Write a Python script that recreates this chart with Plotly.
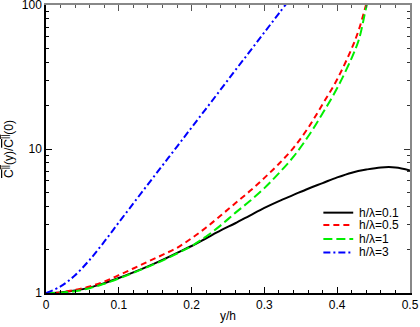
import plotly.graph_objects as go

x_grid = [0, 0.02, 0.04, 0.06, 0.08, 0.10, 0.12, 0.14, 0.16, 0.18, 0.20, 0.22, 0.24,
          0.26, 0.28, 0.30, 0.32, 0.34, 0.36, 0.38, 0.40, 0.42, 0.44, 0.46, 0.48, 0.50]

black_y = [1.0, 1.01, 1.04, 1.09, 1.17, 1.27, 1.39, 1.53, 1.7, 1.9, 2.12, 2.4, 2.72,
           3.05, 3.45, 3.9, 4.35, 4.8, 5.3, 5.8, 6.35, 6.85, 7.2, 7.45, 7.45, 7.1]

red_x = [0, 0.02, 0.04, 0.06, 0.08, 0.10, 0.12, 0.14, 0.16, 0.18, 0.20, 0.22, 0.24,
         0.26, 0.28, 0.30, 0.32, 0.34, 0.36, 0.38, 0.40, 0.42, 0.43, 0.44]
red_y = [1.0, 1.01, 1.05, 1.11, 1.2, 1.33, 1.48, 1.65, 1.84, 2.06, 2.4, 2.85, 3.45,
         4.2, 5.1, 6.3, 7.9, 10.2, 14.0, 20.5, 30.5, 50, 68, 102]

green_x = [0, 0.02, 0.04, 0.06, 0.08, 0.10, 0.12, 0.14, 0.16, 0.18, 0.20, 0.22, 0.24,
           0.26, 0.28, 0.30, 0.32, 0.34, 0.36, 0.38, 0.40, 0.42, 0.43, 0.44, 0.445]
green_y = [1.0, 1.005, 1.03, 1.08, 1.16, 1.26, 1.38, 1.52, 1.68, 1.88, 2.12, 2.47, 2.95,
           3.6, 4.35, 5.35, 6.8, 8.85, 12.2, 17.7, 26.5, 43, 58, 97, 120]

blue_x = [0, 0.02, 0.04, 0.06, 0.08, 0.10, 0.12, 0.14, 0.16, 0.18, 0.20, 0.22, 0.24,
          0.26, 0.28, 0.30, 0.32, 0.34]
blue_y = [1.0, 1.11, 1.33, 1.70, 2.27, 3.09, 4.19, 5.68, 7.69, 10.4, 14.1, 19.1, 25.9,
          35.2, 47.6, 64.6, 87.5, 118.6]

series_names = ["h/λ=0.1", "h/λ=0.5", "h/λ=1", "h/λ=3"]
x_ticks = [0, 0.1, 0.2, 0.3, 0.4, 0.5]
x_labels = ["0", "0.1", "0.2", "0.3", "0.4", "0.5"]
y_ticks = [1, 10, 100]
y_labels = ["1", "10", "100"]
y_minor = [2, 3, 4, 5, 6, 7, 8, 9, 20, 30, 40, 50, 60, 70, 80, 90]

FONT = "Liberation Sans, Arial, sans-serif"

styles = [
    dict(color="black", dash="solid"),
    dict(color="#ff0000", dash="6px,4px"),
    dict(color="#00ee00", dash="9px,4px"),
    dict(color="#0000ff", dash="7px,3px,2px,3px"),
]
series = [(x_grid, black_y), (red_x, red_y), (green_x, green_y), (blue_x, blue_y)]

fig = go.Figure()
for (xs, ys), name, st in zip(series, series_names, styles):
    fig.add_trace(go.Scatter(x=xs, y=ys, mode="lines", name=name, showlegend=False,
                             line=dict(color=st["color"], width=2, shape="spline", dash=st["dash"])))
# secondary axes for grey top/right frame
fig.add_trace(go.Scatter(x=[], y=[], xaxis="x2", yaxis="y2", showlegend=False))

# manual legend (compact spacing as in the reference)
leg_rows = [0.279, 0.236, 0.1875, 0.141]
for name, st, yy in zip(series_names, styles, leg_rows):
    fig.add_shape(type="line", xref="paper", yref="paper", x0=0.762, x1=0.844, y0=yy, y1=yy,
                  line=dict(color=st["color"], width=2, dash=st["dash"]))
    fig.add_annotation(xref="paper", yref="paper", x=0.858, y=yy, text=name, showarrow=False,
                       xanchor="left", yanchor="middle", borderpad=0,
                       font=dict(size=12, family=FONT, color="black"))

fig.update_layout(
    width=420, height=327,
    margin=dict(l=46, r=10, t=5, b=34, autoexpand=False),
    paper_bgcolor="white", plot_bgcolor="white",
    font=dict(family=FONT, size=12, color="black"),
    showlegend=False,
    xaxis=dict(range=[0, 0.5], tickvals=x_ticks, ticktext=x_labels, automargin=False,
               ticklabeloverflow="allow",
               ticks="inside", ticklen=6, tickcolor="black", showline=True, linecolor="black",
               linewidth=1.5, showgrid=False, zeroline=False,
               minor=dict(dtick=0.02, ticks="inside", ticklen=3, tickcolor="black", showgrid=False),
               title=dict(text="y/h", standoff=0, font=dict(size=12)),
               tickfont=dict(size=12)),
    yaxis=dict(type="log", range=[0, 2], tickvals=y_ticks, ticktext=y_labels, automargin=False,
               ticklabeloverflow="allow",
               ticks="inside", ticklen=6, tickcolor="black", showline=True, linecolor="black",
               linewidth=1.5, showgrid=False, zeroline=False,
               minor=dict(tickvals=y_minor, ticks="inside", ticklen=3, tickcolor="black", showgrid=False),
               title=dict(text='<span style="text-decoration:overline">C<sup>||</sup></span>(y)/'
                               '<span style="text-decoration:overline">C<sup>||</sup></span>(0)',
                          standoff=9, font=dict(size=12)),
               tickfont=dict(size=12)),
    xaxis2=dict(overlaying="x", side="top", range=[0, 0.5], tickvals=x_ticks, showticklabels=False,
                automargin=False,
                ticks="inside", ticklen=6, tickcolor="#555", showline=True, linecolor="#888",
                linewidth=1.5, showgrid=False, zeroline=False,
                minor=dict(dtick=0.02, ticks="inside", ticklen=3, tickcolor="#555", showgrid=False)),
    yaxis2=dict(overlaying="y", side="right", type="log", range=[0, 2], tickvals=y_ticks,
                automargin=False,
                showticklabels=False, ticks="inside", ticklen=6, tickcolor="#333", showline=True,
                linecolor="#888", linewidth=1.5, showgrid=False, zeroline=False,
                minor=dict(tickvals=y_minor, ticks="inside", ticklen=3, tickcolor="#333", showgrid=False)),
)

fig.write_html("out.html", config=dict(displayModeBar=False),
               post_script="document.body.style.margin='0';document.body.style.padding='0';")
